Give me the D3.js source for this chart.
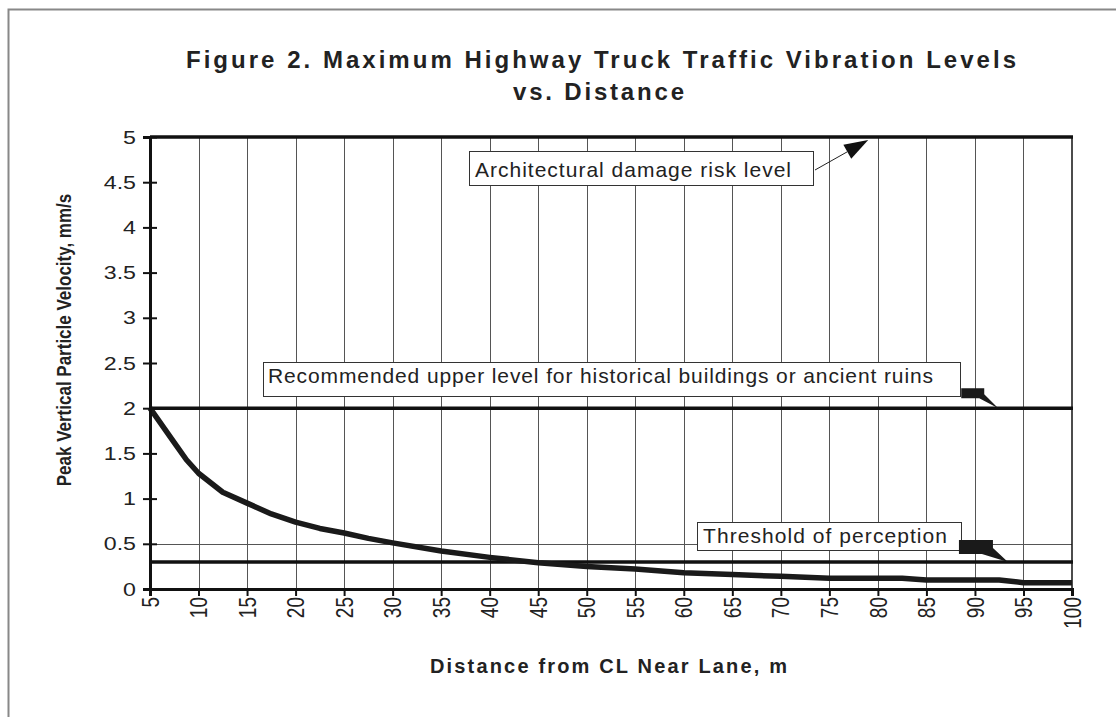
<!DOCTYPE html>
<html>
<head>
<meta charset="utf-8">
<script src="https://cdn.jsdelivr.net/npm/d3@7"></script>
<style>
  body { margin: 0; background: #fff; }
  svg { display: block; font-family: "Liberation Sans", Arial, sans-serif; }
</style>
</head>
<body>
<svg id="chart" width="1116" height="717"></svg>
<script>
// distance from CL of near lane (m) and peak vertical particle velocity (mm/s)
const distance = [5, 7.5, 8.75, 10, 12.5, 15, 17.5, 20, 22.5, 25, 27.5, 30, 35, 40, 45, 50, 55, 60, 65, 70, 75, 80, 82.5, 85, 90, 92.5, 95, 100];
const ppv = [2.0, 1.62, 1.43, 1.28, 1.07, 0.95, 0.83, 0.74, 0.67, 0.62, 0.56, 0.51, 0.42, 0.35, 0.29, 0.25, 0.22, 0.18, 0.16, 0.14, 0.12, 0.12, 0.12, 0.10, 0.10, 0.10, 0.07, 0.07];

const xTicks = d3.range(5, 101, 5);
const yTicks = d3.range(0, 5.01, 0.5);

const refLevels = [5, 2, 0.3];
const refLabels = [
  "Architectural damage risk level",
  "Recommended upper level for historical buildings or ancient ruins",
  "Threshold of perception"
];

const titleLines = ["Figure 2.  Maximum Highway Truck Traffic Vibration Levels", "vs. Distance"];
const xTitle = "Distance from CL Near Lane, m";
const yTitle = "Peak Vertical Particle Velocity, mm/s";

const svg = d3.select("#chart");
const plotL = 150, plotR = 1072, plotT = 137, plotB = 589;
const stretch = 1.22; // glyphs in the source are a little wide

const x = d3.scaleLinear().domain([5, 100]).range([plotL, plotR]);
const y = d3.scaleLinear().domain([0, 5]).range([plotB, plotT]);

// outer frame
svg.append("rect")
  .attr("x", 8.5).attr("y", 9.5).attr("width", 1130).attr("height", 730)
  .attr("fill", "none").attr("stroke", "#888").attr("stroke-width", 2);

// title
svg.append("text")
  .attr("x", 186).attr("y", 68)
  .attr("textLength", 830).attr("lengthAdjust", "spacing")
  .attr("font-size", 24).attr("font-weight", "bold").attr("fill", "#222")
  .text(titleLines[0]);
svg.append("text")
  .attr("x", 513).attr("y", 100)
  .attr("textLength", 171).attr("lengthAdjust", "spacing")
  .attr("font-size", 24).attr("font-weight", "bold").attr("fill", "#222")
  .text(titleLines[1]);

// vertical grid
svg.append("g")
  .selectAll("line")
  .data(xTicks.filter(d => d > 5 && d < 100))
  .join("line")
  .attr("x1", d => Math.round(x(d)) + 0.5).attr("x2", d => Math.round(x(d)) + 0.5)
  .attr("y1", plotT).attr("y2", plotB)
  .attr("stroke", "#555").attr("stroke-width", 1);

// horizontal grid line at 0.5
svg.append("line")
  .attr("x1", plotL).attr("x2", plotR)
  .attr("y1", Math.round(y(0.5)) + 0.5).attr("y2", Math.round(y(0.5)) + 0.5)
  .attr("stroke", "#555").attr("stroke-width", 1);

// right border
svg.append("line")
  .attr("x1", plotR).attr("x2", plotR).attr("y1", plotT).attr("y2", plotB)
  .attr("stroke", "#111").attr("stroke-width", 1.5);

// reference levels
svg.append("g")
  .selectAll("line")
  .data(refLevels)
  .join("line")
  .attr("x1", plotL).attr("x2", plotR + 1)
  .attr("y1", d => y(d)).attr("y2", d => y(d))
  .attr("stroke", "#111").attr("stroke-width", 3.5);

// curve
svg.append("path")
  .datum(distance.map((d, i) => [d, ppv[i]]))
  .attr("fill", "none").attr("stroke", "#1a1a1a").attr("stroke-width", 5.5)
  .attr("stroke-linejoin", "round")
  .attr("d", d3.line().x(d => x(d[0])).y(d => y(d[1])));

// axes
const yAxis = svg.append("g")
  .attr("transform", `translate(${plotL},0)`)
  .call(d3.axisLeft(y).tickValues(yTicks).tickFormat(d => String(d)).tickSize(7));
yAxis.select(".domain").attr("stroke", "#111").attr("stroke-width", 3);
yAxis.selectAll(".tick line").attr("x1", -7).attr("x2", 7).attr("stroke", "#111").attr("stroke-width", 2);
yAxis.selectAll(".tick text")
  .attr("font-size", 19).attr("fill", "#222").attr("font-family", "Liberation Sans, Arial, sans-serif")
  .attr("x", -14 / stretch)
  .attr("transform", `scale(${stretch},1)`);

const xAxis = svg.append("g")
  .attr("transform", `translate(0,${plotB})`)
  .call(d3.axisBottom(x).tickValues(xTicks).tickFormat(d => String(d)).tickSize(7));
xAxis.select(".domain").attr("stroke", "#111").attr("stroke-width", 3);
xAxis.selectAll(".tick line").attr("stroke", "#111").attr("stroke-width", 2);
xAxis.selectAll(".tick text")
  .attr("font-size", 19).attr("fill", "#222").attr("font-family", "Liberation Sans, Arial, sans-serif")
  .attr("transform", `scale(${stretch},1) rotate(-90)`)
  .attr("text-anchor", "end")
  .attr("x", -8).attr("y", 0).attr("dy", "0.35em");

// axis titles
svg.append("text")
  .attr("transform", `translate(71,340) scale(${stretch},1) rotate(-90)`)
  .attr("text-anchor", "middle")
  .attr("font-size", 17).attr("font-weight", "bold").attr("fill", "#222")
  .text(yTitle);
svg.append("text")
  .attr("x", 430).attr("y", 673)
  .attr("textLength", 357).attr("lengthAdjust", "spacing")
  .attr("font-size", 20).attr("font-weight", "bold").attr("fill", "#222")
  .text(xTitle);

// annotation boxes
const boxes = [
  { x0: 469, y0: 151, w: 344, h: 34, tx: 475, ty: 177, tw: 316 },
  { x0: 263, y0: 362, w: 697, h: 34, tx: 268, ty: 383, tw: 665 },
  { x0: 697, y0: 522, w: 264, h: 28, tx: 703, ty: 543, tw: 244 }
];
const ann = svg.append("g");
boxes.forEach((b, i) => {
  ann.append("rect")
    .attr("x", b.x0 + 0.5).attr("y", b.y0 + 0.5).attr("width", b.w).attr("height", b.h)
    .attr("fill", "#fff").attr("stroke", "#333").attr("stroke-width", 1);
  ann.append("text")
    .attr("x", b.tx).attr("y", b.ty)
    .attr("textLength", b.tw).attr("lengthAdjust", "spacing")
    .attr("font-size", 21).attr("fill", "#222")
    .text(refLabels[i]);
});

// arrow to top level
const tipX = x(79), tipY = y(refLevels[0]) + 3;
const sx = 815, sy = 170;
const ang = Math.atan2(tipY - sy, tipX - sx);
const hl = 24, hw = 8;
const bx = tipX - hl * Math.cos(ang), by = tipY - hl * Math.sin(ang);
ann.append("line")
  .attr("x1", sx).attr("y1", sy).attr("x2", bx).attr("y2", by)
  .attr("stroke", "#222").attr("stroke-width", 1);
ann.append("path")
  .attr("d", `M${tipX},${tipY}L${bx + hw * Math.sin(ang)},${by - hw * Math.cos(ang)}L${bx - hw * Math.sin(ang)},${by + hw * Math.cos(ang)}Z`)
  .attr("fill", "#111");

// callout tails for the two lower levels
function tail(tx, ty, pts) {
  ann.append("path")
    .attr("d", "M" + pts.map(p => [tx + p[0], ty + p[1]].join(",")).join("L") + "Z")
    .attr("fill", "#1a1a1a");
}
tail(x(92.4), y(refLevels[1]), [[-37, -20], [-14, -20], [-14, -14], [0, 0], [-19, -10], [-37, -10]]);
tail(x(93.4), y(refLevels[2]), [[-49, -22], [-15, -22], [-15, -14], [0, 0], [-26, -8], [-49, -8]]);
</script>
</body>
</html>
